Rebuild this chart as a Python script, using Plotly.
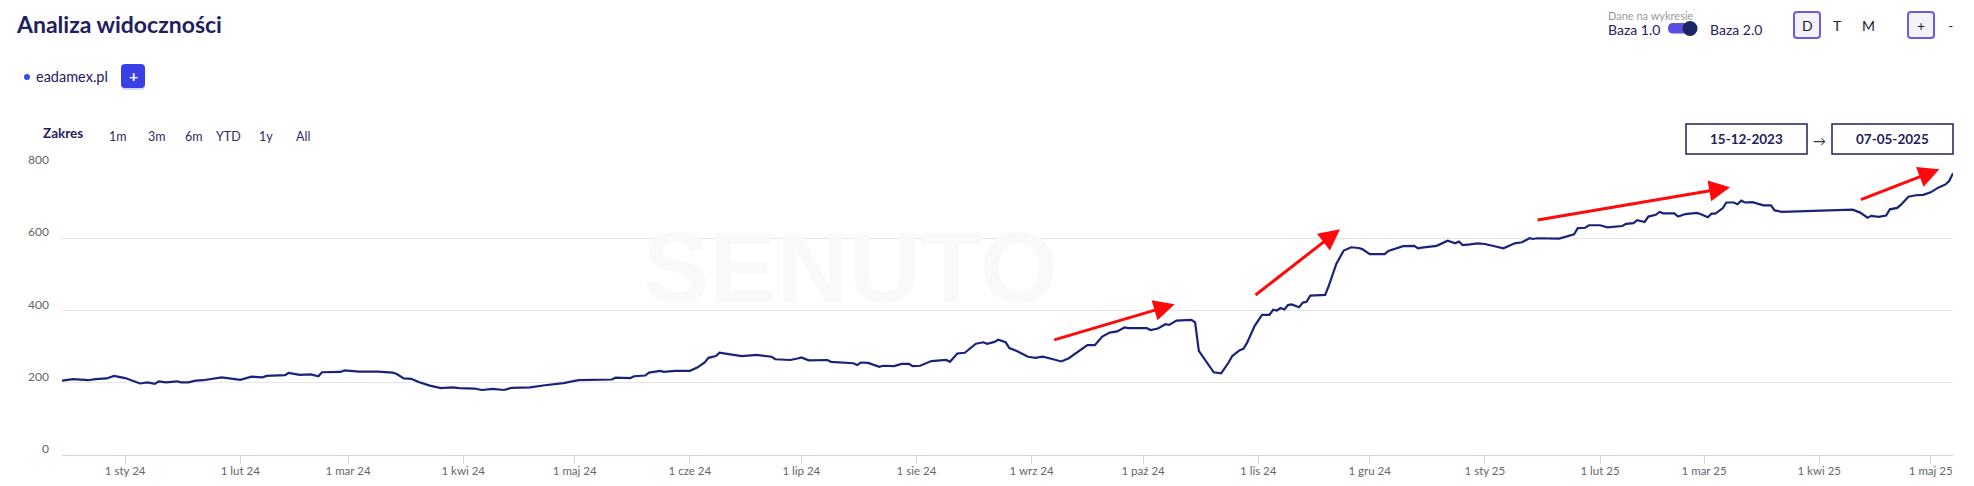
import plotly.graph_objects as go

# ---------------- data ----------------
dates = [
    "2023-12-15", "2023-12-18", "2023-12-22", "2023-12-24", "2023-12-27", "2023-12-29",
    "2024-01-01", "2024-01-03", "2024-01-05", "2024-01-07", "2024-01-09", "2024-01-10",
    "2024-01-12", "2024-01-15", "2024-01-16", "2024-01-18", "2024-01-20", "2024-01-22",
    "2024-01-24", "2024-01-27", "2024-01-29", "2024-02-01", "2024-02-04", "2024-02-07",
    "2024-02-08", "2024-02-13", "2024-02-14", "2024-02-17", "2024-02-20", "2024-02-22",
    "2024-02-23", "2024-02-28", "2024-02-29", "2024-03-04", "2024-03-09", "2024-03-13",
    "2024-03-14", "2024-03-16", "2024-03-18", "2024-03-20", "2024-03-23", "2024-03-26",
    "2024-03-29", "2024-03-31", "2024-04-04", "2024-04-06", "2024-04-09", "2024-04-12",
    "2024-04-14", "2024-04-19", "2024-04-23", "2024-04-28", "2024-05-02", "2024-05-06",
    "2024-05-11", "2024-05-12", "2024-05-16", "2024-05-17", "2024-05-20", "2024-05-21",
    "2024-05-24", "2024-05-25", "2024-05-28", "2024-06-01", "2024-06-03", "2024-06-05",
    "2024-06-06", "2024-06-08", "2024-06-09", "2024-06-11", "2024-06-12", "2024-06-15",
    "2024-06-19", "2024-06-23", "2024-06-24", "2024-06-28", "2024-06-30", "2024-07-01",
    "2024-07-03", "2024-07-06", "2024-07-08", "2024-07-09", "2024-07-12", "2024-07-15",
    "2024-07-16", "2024-07-17", "2024-07-19", "2024-07-22", "2024-07-23", "2024-07-26",
    "2024-07-28", "2024-07-30", "2024-07-31", "2024-08-02", "2024-08-05", "2024-08-09",
    "2024-08-10", "2024-08-12", "2024-08-14", "2024-08-17", "2024-08-19", "2024-08-20",
    "2024-08-22", "2024-08-23", "2024-08-25", "2024-08-26", "2024-08-28", "2024-08-31",
    "2024-09-02", "2024-09-04", "2024-09-06", "2024-09-09", "2024-09-11", "2024-09-14",
    "2024-09-16", "2024-09-18", "2024-09-20", "2024-09-22", "2024-09-24", "2024-09-26",
    "2024-09-27", "2024-10-02", "2024-10-03", "2024-10-05", "2024-10-07", "2024-10-08",
    "2024-10-10", "2024-10-14", "2024-10-15", "2024-10-16", "2024-10-17", "2024-10-19",
    "2024-10-20", "2024-10-22", "2024-10-23", "2024-10-24", "2024-10-25", "2024-10-27",
    "2024-10-28", "2024-10-29", "2024-10-31", "2024-11-02", "2024-11-04", "2024-11-05",
    "2024-11-06", "2024-11-07", "2024-11-08", "2024-11-09", "2024-11-10", "2024-11-12",
    "2024-11-13", "2024-11-14", "2024-11-15", "2024-11-19", "2024-11-20", "2024-11-22",
    "2024-11-24", "2024-11-26", "2024-11-28", "2024-11-29", "2024-12-01", "2024-12-05",
    "2024-12-06", "2024-12-08", "2024-12-10", "2024-12-13", "2024-12-14", "2024-12-15",
    "2024-12-18", "2024-12-19", "2024-12-22", "2024-12-23", "2024-12-24", "2024-12-25",
    "2024-12-26", "2024-12-28", "2024-12-30", "2025-01-01", "2025-01-03", "2025-01-06",
    "2025-01-08", "2025-01-09", "2025-01-11", "2025-01-13", "2025-01-14", "2025-01-15",
    "2025-01-21", "2025-01-23", "2025-01-25", "2025-01-26", "2025-01-28", "2025-01-29",
    "2025-02-01", "2025-02-03", "2025-02-06", "2025-02-07", "2025-02-08", "2025-02-10",
    "2025-02-11", "2025-02-13", "2025-02-14", "2025-02-16", "2025-02-17", "2025-02-18",
    "2025-02-21", "2025-02-22", "2025-02-24", "2025-02-27", "2025-02-28", "2025-03-02",
    "2025-03-03", "2025-03-04", "2025-03-06", "2025-03-07", "2025-03-09", "2025-03-10",
    "2025-03-11", "2025-03-12", "2025-03-14", "2025-03-16", "2025-03-17", "2025-03-19",
    "2025-03-20", "2025-03-22", "2025-03-25", "2025-03-27", "2025-03-30", "2025-04-03",
    "2025-04-07", "2025-04-10", "2025-04-12", "2025-04-14", "2025-04-15", "2025-04-17",
    "2025-04-19", "2025-04-20", "2025-04-22", "2025-04-23", "2025-04-25", "2025-04-27",
    "2025-04-29", "2025-05-01", "2025-05-03", "2025-05-05", "2025-05-06", "2025-05-07",
]
visibility = [
    206, 210, 207, 210, 212, 219,
    213, 205, 198, 201, 197, 204,
    201, 204, 201, 201, 206, 207,
    211, 215, 212, 208, 217, 215,
    219, 221, 227, 222, 223, 218,
    229, 230, 234, 231, 231, 228,
    225, 212, 211, 202, 192, 185,
    187, 185, 184, 180, 183, 180,
    186, 187, 193, 199, 207, 208,
    209, 214, 213, 218, 220, 228,
    233, 230, 233, 233, 242, 256,
    269, 274, 283, 280, 279, 274,
    277, 272, 265, 263, 267, 270,
    262, 263, 263, 258, 257, 254,
    249, 256, 255, 244, 247, 246,
    252, 252, 246, 247, 260, 263,
    258, 281, 283, 308, 312, 308,
    313, 319, 312, 296, 288, 272,
    269, 272, 267, 259, 268, 290,
    304, 304, 328, 339, 342, 353,
    351, 351, 346, 350, 362, 360,
    372, 374, 367, 288, 274, 246,
    229, 226, 240, 256, 274, 290,
    294, 311, 357, 388, 388, 402,
    400, 407, 403, 415, 417, 409,
    422, 424, 441, 443, 469, 529,
    566, 575, 573, 570, 556, 556,
    565, 572, 578, 579, 572, 574,
    577, 579, 593, 590, 586, 591,
    581, 583, 586, 584, 580, 572,
    581, 586, 589, 600, 598, 600,
    599, 605, 611, 628, 629, 636,
    636, 630, 632, 634, 640, 642,
    650, 645, 660, 665, 673, 669,
    669, 660, 667, 670, 667, 658,
    668, 668, 683, 699, 699, 694,
    704, 699, 700, 693, 691, 691,
    677, 673, 674, 676, 675, 677,
    678, 679, 671, 657, 662, 659,
    663, 680, 684, 693, 715, 719,
    720, 727, 740, 749, 759, 780,
]

month_ticks = [
    "2024-01-01", "2024-02-01", "2024-03-01", "2024-04-01", "2024-05-01", "2024-06-01",
    "2024-07-01", "2024-08-01", "2024-09-01", "2024-10-01", "2024-11-01", "2024-12-01",
    "2025-01-01", "2025-02-01", "2025-03-01", "2025-04-01", "2025-05-01",
]
month_labels = [
    "1 sty 24", "1 lut 24", "1 mar 24", "1 kwi 24", "1 maj 24", "1 cze 24",
    "1 lip 24", "1 sie 24", "1 wrz 24", "1 paź 24", "1 lis 24", "1 gru 24",
    "1 sty 25", "1 lut 25", "1 mar 25", "1 kwi 25", "1 maj 25",
]
y_ticks = [0, 200, 400, 600, 800]

chart_title = "Analiza widoczności"
series_name = "eadamex.pl"
range_label = "Zakres"
range_buttons = ["1m", "3m", "6m", "YTD", "1y", "All"]
date_from = "15-12-2023"
date_to = "07-05-2025"

# trend arrows drawn on the screenshot: (head date, head value)
arrow_heads = [("2024-10-09 12:00", 417), ("2024-11-23", 625),
               ("2025-03-08", 741), ("2025-05-03 08:00", 791)]
arrow_tails_px = [(-122, 36), (-86, 67), (-194, 33), (-80, 31)]

# ---------------- layout geometry ----------------
W, H = 1974, 486
L, R, T, B = 62, 21, 166, 31
PW, PH = W - L - R, H - T - B

NAVY = "#1f2060"
FONT = "Lato, 'Open Sans', sans-serif"


def px(x):
    return (x - L) / PW


def py(y):
    return (H - B - y) / PH


def rrect(x0, y0, x1, y1, r):
    X0, X1, Y0, Y1 = px(x0), px(x1), py(y0), py(y1)
    rx, ry = r / PW, r / PH
    return (f"M {X0+rx} {Y0} L {X1-rx} {Y0} Q {X1} {Y0} {X1} {Y0-ry} "
            f"L {X1} {Y1+ry} Q {X1} {Y1} {X1-rx} {Y1} L {X0+rx} {Y1} "
            f"Q {X0} {Y1} {X0} {Y1+ry} L {X0} {Y0-ry} Q {X0} {Y0} {X0+rx} {Y0} Z")


fig = go.Figure()
fig.add_trace(go.Scatter(
    x=dates, y=visibility, mode="lines", name=series_name,
    line=dict(color="#1b2279", width=2.2), showlegend=False,
))

shapes = []
annotations = []


def text(x, y, s, size=13, color=NAVY, anchor="left", bold=False, family=FONT):
    annotations.append(dict(
        xref="paper", yref="paper", x=px(x), y=py(y), text=f"<b>{s}</b>" if bold else s,
        showarrow=False, xanchor=anchor, yanchor="middle",
        font=dict(size=size, color=color, family=family),
    ))


# watermark
annotations.append(dict(
    xref="paper", yref="paper", x=px(850), y=py(267), text="<b>SENUTO</b>",
    showarrow=False, xanchor="center", yanchor="middle",
    font=dict(size=100, color="#f9f9f9", family="Liberation Sans, Arial"),
))

# title
text(14, 24, chart_title, size=23, bold=True)

# series legend + add button
shapes.append(dict(type="circle", xref="paper", yref="paper",
                   x0=px(24), x1=px(30), y0=py(74), y1=py(80),
                   fillcolor="#3a4be6", line=dict(width=0)))
text(34, 77, series_name, size=14.5, color=NAVY)
shapes.append(dict(type="path", xref="paper", yref="paper",
                   path=rrect(121, 66, 145, 90, 4), fillcolor="rgba(40,40,120,0.18)",
                   line=dict(width=0)))
shapes.append(dict(type="path", xref="paper", yref="paper",
                   path=rrect(121, 64, 145, 88, 4), fillcolor="#3b3fe6",
                   line=dict(width=0)))
text(133, 76, "+", size=16, color="white", anchor="center", bold=True)

# range selector
text(41, 133, range_label, size=13.5, bold=True)
for lbl, cx in zip(range_buttons, [118, 156.5, 193.5, 228.5, 266, 302.5]):
    text(cx, 136, lbl, size=12.5, color="#2b2c5e", anchor="center")

# data base switch
text(1606, 15, "Dane na wykresie", size=11, color="#9a9a9a")
text(1606, 29, "Baza 1.0", size=14)
shapes.append(dict(type="path", xref="paper", yref="paper",
                   path=rrect(1668, 23, 1697, 33.5, 5.2), fillcolor="#5b4fe3",
                   line=dict(width=0)))
shapes.append(dict(type="circle", xref="paper", yref="paper",
                   x0=px(1682.5), x1=px(1697.5), y0=py(21), y1=py(36),
                   fillcolor="#1f2464", line=dict(width=0)))
text(1708, 29, "Baza 2.0", size=14)

# D / T / M and zoom buttons
for x0 in (1794, 1908):
    shapes.append(dict(type="path", xref="paper", yref="paper",
                       path=rrect(x0, 12, x0 + 26, 38, 3), fillcolor="#f4f3fc",
                       line=dict(color="#6a5ae8", width=2)))
text(1807, 25, "D", size=14, color="#222", anchor="center")
text(1837, 25, "T", size=14, color="#222", anchor="center")
text(1868, 25, "M", size=14, color="#222", anchor="center")
text(1921, 25, "+", size=14, color="#222", anchor="center")
text(1950, 25, "-", size=14, color="#222", anchor="center")

# date range inputs
for (x0, x1, s) in ((1686, 1807, date_from), (1832, 1953, date_to)):
    shapes.append(dict(type="rect", xref="paper", yref="paper",
                       x0=px(x0), x1=px(x1), y0=py(124), y1=py(154),
                       fillcolor="white", line=dict(color=NAVY, width=1.5)))
    text((x0 + x1) / 2, 139, s, size=13.5, bold=True, anchor="center")
text(1819, 141, "→", size=13, color="#333", anchor="center")

# red trend arrows
for (hx, hy), (ax, ay) in zip(arrow_heads, arrow_tails_px):
    annotations.append(dict(
        x=hx, y=hy, xref="x", yref="y", ax=ax, ay=ay, text="",
        showarrow=True, arrowhead=2, arrowsize=1.4, arrowwidth=3,
        arrowcolor="#ff0a0a", standoff=0,
    ))

fig.update_layout(
    width=W, height=H, autosize=False,
    margin=dict(l=L, r=R, t=T, b=B, pad=0, autoexpand=False),
    paper_bgcolor="white", plot_bgcolor="white",
    font=dict(family=FONT, color="#666666", size=12),
    shapes=shapes, annotations=annotations,
    showlegend=False,
    xaxis=dict(
        type="date", range=[dates[0], dates[-1]], automargin=False,
        tickmode="array", tickvals=month_ticks, ticktext=month_labels,
        ticks="outside", ticklen=8, tickcolor="#ccd6eb", tickwidth=1,
        showline=True, linecolor="#ccd6eb", linewidth=1,
        showgrid=False, zeroline=False, ticklabelstandoff=-3,
        tickfont=dict(size=11.5, color="#666666", family=FONT),
    ),
    yaxis=dict(
        range=[0, 800], tickmode="array", tickvals=y_ticks, automargin=False,
        showgrid=True, gridcolor="#e6e6e6", gridwidth=1,
        zeroline=False, showline=False, ticks="",
        ticklabelshift=-6, ticklabelstandoff=12,
        tickfont=dict(size=12, color="#666666", family=FONT),
    ),
)

fig.write_html(
    "out.html",
    config={"displayModeBar": False},
    post_script="document.body.style.margin='0px';document.body.style.overflow='hidden';",
)
